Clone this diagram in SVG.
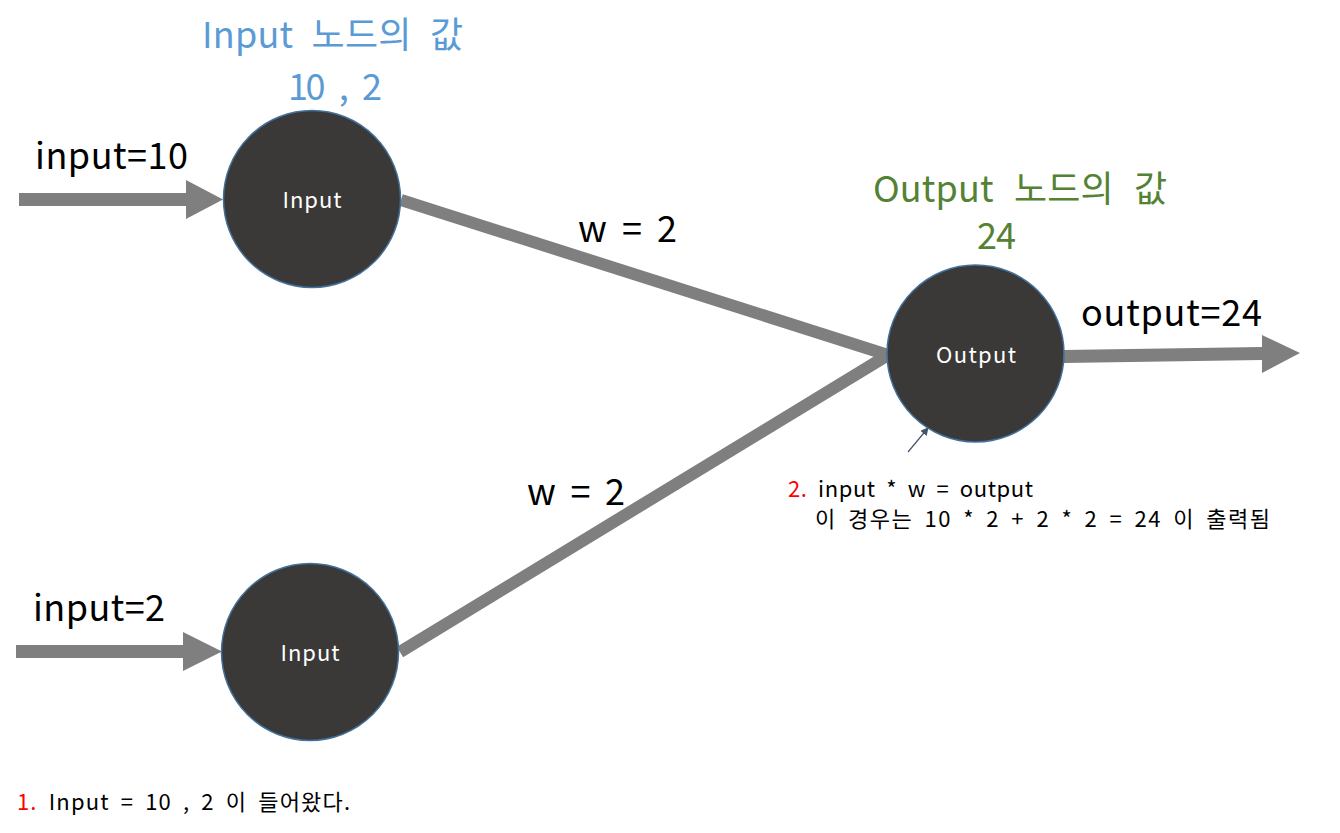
<svg xmlns="http://www.w3.org/2000/svg" width="1340" height="833" viewBox="0 0 1340 833">
<style>
text{font-family:"Noto Sans CJK KR","Noto Sans",sans-serif}
.node{fill:#3a3938;stroke:#41719c;stroke-width:1.5}
.nl{fill:#ffffff;font-size:22px;text-anchor:middle}
.big{fill:#000;font-size:36px;word-spacing:7px}
.blue{fill:#5b9bd5;font-size:36px;word-spacing:10px}
.green{fill:#548235;font-size:36px;word-spacing:12px}
.note{fill:#000;font-size:22px;word-spacing:5px}
.red{fill:#ff0000}
.conn{stroke:#7f7f7f;stroke-width:12;fill:none}
.arrow{fill:#7f7f7f}
</style>
<defs>
<marker id="sm" markerWidth="8" markerHeight="8" refX="7" refY="4" orient="auto" markerUnits="userSpaceOnUse">
<path d="M0,0 L8,4 L0,8 z" fill="#44546a"/>
</marker>
</defs>
<g id="connectors">
<line class="conn" x1="401" y1="200" x2="888" y2="355"/>
<line class="conn" x1="400" y1="652" x2="888" y2="355"/>
<polygon class="arrow" points="19,193 186,193 186,180 223,199.5 186,219 186,206 19,206"/>
<polygon class="arrow" points="16,645 183,645 183,632 222,651.5 183,671 183,658 16,658"/>
<polygon class="arrow" points="1064,350 1262,347 1262,335 1300,353 1262,373 1262,360 1064,363"/>
<line x1="908" y1="452" x2="928" y2="428" stroke="#44546a" stroke-width="1.2" marker-end="url(#sm)"/>
</g>
<g id="input1">
<circle class="node" cx="312" cy="199" r="88.5"/>
<text class="nl" x="312" y="208" textLength="59" lengthAdjust="spacing">Input</text>
</g>
<g id="input2">
<circle class="node" cx="310" cy="652" r="88.5"/>
<text class="nl" x="310" y="661" textLength="59" lengthAdjust="spacing">Input</text>
</g>
<g id="output">
<circle class="node" cx="975.5" cy="353.5" r="88.5"/>
<text class="nl" x="976" y="363" textLength="80" lengthAdjust="spacing">Output</text>
</g>
<g id="labels">
<text class="blue" x="202" y="48" textLength="261" lengthAdjust="spacing">Input 노드의 값</text>
<text class="blue" x="288" y="100" textLength="94" lengthAdjust="spacing">10 , 2</text>
<text class="green" x="873" y="202" textLength="294" lengthAdjust="spacing">Output 노드의 값</text>
<text class="green" x="977" y="249" textLength="39" lengthAdjust="spacing">24</text>
<text class="big" x="35" y="169" textLength="153" lengthAdjust="spacing">input=10</text>
<text class="big" x="33" y="621" textLength="132" lengthAdjust="spacing">input=2</text>
<text class="big" x="1081" y="326" textLength="181" lengthAdjust="spacing">output=24</text>
<text class="big" x="578" y="242" textLength="99" lengthAdjust="spacing">w = 2</text>
<text class="big" x="527" y="505" textLength="98" lengthAdjust="spacing">w = 2</text>
<text class="note" x="788" y="497" textLength="245" lengthAdjust="spacing"><tspan class="red">2.</tspan> input * w = output</text>
<text class="note" x="815" y="527" textLength="455" lengthAdjust="spacing">이 경우는 10 * 2 + 2 * 2 = 24 이 출력됨</text>
<text class="note" x="17" y="810" textLength="333" lengthAdjust="spacing"><tspan class="red">1.</tspan> Input = 10 , 2 이 들어왔다.</text>
</g>
</svg>
